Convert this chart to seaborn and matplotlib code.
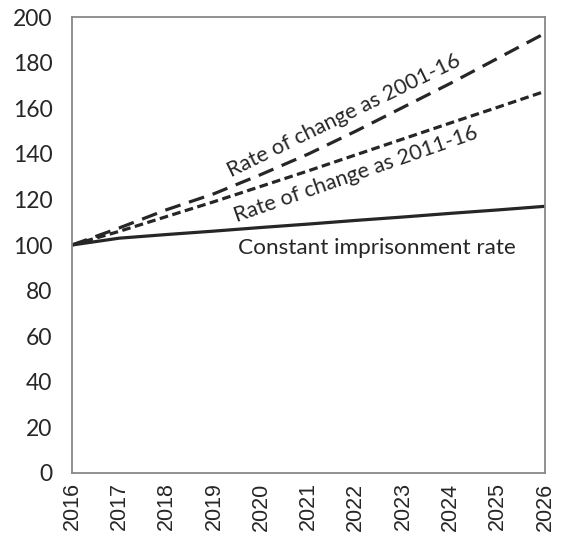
import numpy as np
import pandas as pd
import matplotlib
matplotlib.use("Agg")
import matplotlib.pyplot as plt
import seaborn as sns

sns.set_style("white")
plt.rcParams['font.family'] = ['Lato', 'DejaVu Sans']

years = list(range(2016, 2027))
constant_rate = [100, 103, 104.6, 106.1, 107.7, 109.2, 110.8, 112.3, 113.9, 115.4, 117.0]
change_2001_16 = [100, 107.5, 115.5, 122.5, 131, 140, 150, 160.5, 171, 182, 193]
change_2011_16 = [100, 106, 112.5, 119, 125.8, 132.6, 139.6, 146.6, 153.6, 160.5, 167.5]
series_names = ['Constant imprisonment rate', 'Rate of change as 2001-16', 'Rate of change as 2011-16']

df = pd.DataFrame({
    'year': years * 3,
    'value': constant_rate + change_2001_16 + change_2011_16,
    'series': np.repeat(series_names, len(years)),
})

fig = plt.figure(figsize=(5.61, 5.38), dpi=100)
ax = fig.add_axes([0.1283, 0.1214, 0.8432, 0.8464])

dash_styles = {
    'Constant imprisonment rate': '',
    'Rate of change as 2001-16': (5.0, 2.8),
    'Rate of change as 2011-16': (2.7, 1.4),
}
sns.lineplot(data=df, x='year', y='value', hue='series', style='series',
             palette=['#262626'] * 3, dashes=dash_styles, linewidth=2.3,
             legend=False, ax=ax)

ax.set_xlim(2016, 2026)
ax.set_ylim(0, 200)
ax.set_xticks(years)
ax.set_xticklabels([str(y) for y in years], rotation=90, fontsize=15.5,
                   family=['Liberation Sans', 'DejaVu Sans'])
ax.set_yticks(range(0, 201, 20))
ax.tick_params(axis='y', labelsize=16.5, length=7, width=1.2, color='#888888', pad=7)
ax.tick_params(axis='x', length=6, width=1.2, color='#888888', pad=1)
ax.set_xlabel('')
ax.set_ylabel('')
for s in ax.spines.values():
    s.set_visible(True)
    s.set_color('#888888')
    s.set_linewidth(1.3)

ax.text(2019.36, 129.5, 'Rate of change as 2001-16', rotation=26.0,
        rotation_mode='anchor', ha='left', va='baseline', fontsize=15.6)
ax.text(2019.48, 109.9, 'Rate of change as 2011-16', rotation=19.2,
        rotation_mode='anchor', ha='left', va='baseline', fontsize=15.6)
ax.text(2019.52, 96.0, 'Constant imprisonment rate',
        ha='left', va='baseline', fontsize=16.2)

fig.savefig('out.png', dpi=100)
